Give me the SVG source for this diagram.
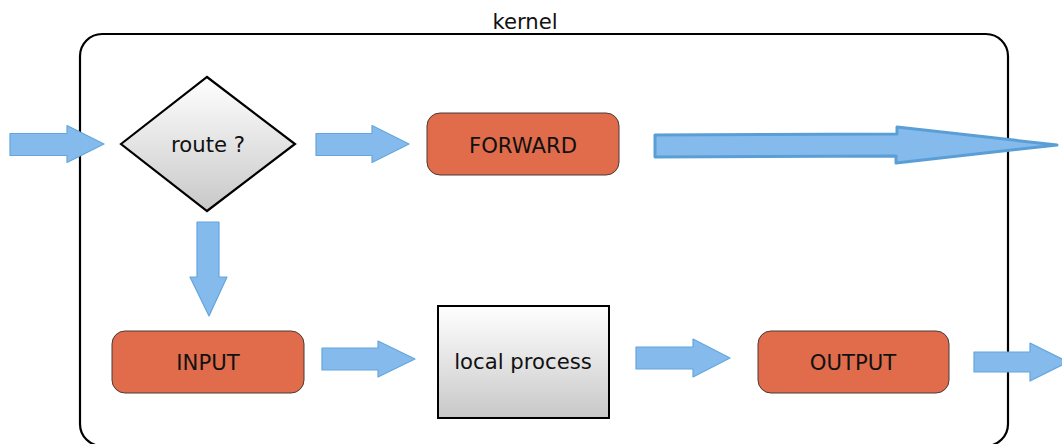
<svg xmlns="http://www.w3.org/2000/svg" width="1062" height="444" viewBox="0 0 1062 444">
<style>
.lbl{font-family:"DejaVu Sans",Verdana,sans-serif;font-size:21.2px;fill:#111;text-anchor:middle}
.chain{fill:#e06c4b;stroke:#4a3a35;stroke-width:1}
.arr{fill:#85bbec;stroke:#64a6dc;stroke-width:1.2;stroke-linejoin:round}
.big{fill:#85bbec;stroke:#5a9ed6;stroke-width:3;stroke-linejoin:round}
</style>
<defs>
<linearGradient id="gray" x1="0" y1="0" x2="0" y2="1">
<stop offset="0" stop-color="#ffffff"/>
<stop offset="1" stop-color="#c8c8c8"/>
</linearGradient>
</defs>
<g id="kernel">
<rect x="80" y="34" width="928" height="412" rx="22" ry="22" fill="none" stroke="#000" stroke-width="2.2"/>
<text class="lbl" x="525" y="29">kernel</text>
</g>
<g id="route">
<polygon points="121,144 207,77 295,144 207,211" fill="url(#gray)" stroke="#000" stroke-width="2.2"/>
<text class="lbl" x="208" y="152">route ?</text>
</g>
<g id="forward">
<rect class="chain" x="427" y="113" width="192" height="62" rx="13" ry="13"/>
<text class="lbl" x="523" y="153">FORWARD</text>
</g>
<g id="input">
<rect class="chain" x="112" y="331" width="192" height="62" rx="13" ry="13"/>
<text class="lbl" x="208" y="370">INPUT</text>
</g>
<g id="local">
<rect x="438" y="306" width="171" height="112" fill="url(#gray)" stroke="#000" stroke-width="2"/>
<text class="lbl" x="523" y="369">local process</text>
</g>
<g id="output">
<rect class="chain" x="758" y="331" width="191" height="62" rx="13" ry="13"/>
<text class="lbl" x="853" y="370">OUTPUT</text>
</g>
<g id="connectors">
<polygon class="arr" points="10,133.5 67,133.5 67,125.5 104,144 67,162.5 67,155.5 10,155.5"/>
<polygon class="arr" points="316,133.5 372,133.5 372,125.5 409,144 372,162.5 372,155.5 316,155.5"/>
<polygon class="big" points="655,135 897,134 897,127 1057,145 896,163 896,156 655,157"/>
<polygon class="arr" points="197,222 219,222 219,277 227,277 209,316 190,277 197,277"/>
<polygon class="arr" points="322,348 378,348 378,341 415,359 378,377 378,370 322,370"/>
<polygon class="arr" points="636,347 693,347 693,339 730,358 693,377 693,369 636,369"/>
<polygon class="arr" points="974,352 1030,352 1030,343 1068,362 1030,381 1030,372 974,372"/>
</g>
</svg>
